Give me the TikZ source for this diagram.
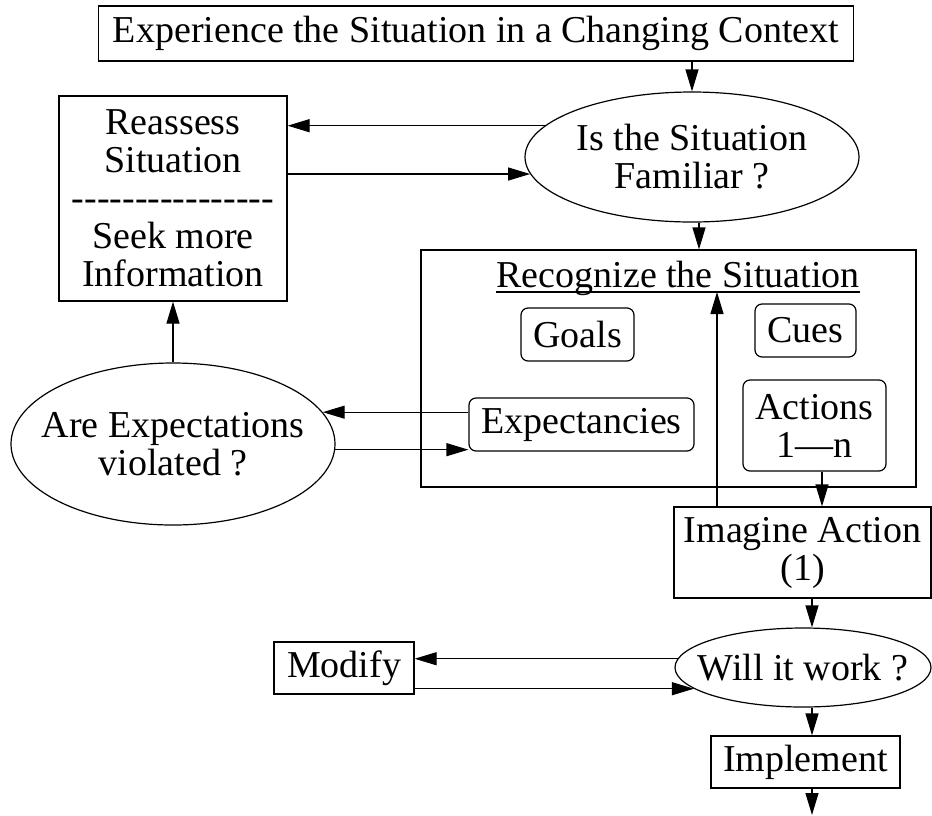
\documentclass[tikz,border=0pt]{standalone}
\usepackage{fontspec}
\setmainfont{Liberation Serif}[Ligatures=TeXOff]
\usetikzlibrary{shapes.geometric,arrows.meta,calc}
\begin{document}
\begin{tikzpicture}[x=1pt,y=-1pt,
  every node/.style={font=\fontsize{38}{38}\selectfont},
  line width=1.2pt,
  box/.style={draw, rectangle, inner sep=0pt, align=center},
  rbox/.style={box, rounded corners=7pt},
  oval/.style={draw, ellipse, inner sep=0pt},
  txt/.style={align=center, inner sep=0pt},
  arr/.style={-{Triangle[length=22pt,width=13pt]}}]
\useasboundingbox (0,0) rectangle (932,815);

% boxes and decisions
\node[box, minimum width=755pt, minimum height=55pt] (top) at (476,33.5)
  {Experience the Situation in a Changing Context};
\node[oval, minimum width=334pt, minimum height=130pt] (fam) at (692,157) {};
\node[txt] (famtxt) at (fam.center) {Is the Situation\\Familiar ?};
\node[box, minimum width=228pt, minimum height=205pt] (reas) at (173,198.5)
  {Reassess\\Situation\\----------------\\Seek more\\Information};

\node[box, minimum width=495pt, minimum height=237pt] (rec) at (668.5,368.5) {};
\node[inner sep=0pt, anchor=base] (title) at (678,287) {Recognize the Situation};
\coordinate (ul) at ([yshift=-5pt]title.base);
\draw ([yshift=-5pt]title.base west) -- ([yshift=-5pt]title.base east);
\node[rbox, minimum width=113pt, minimum height=53pt] (goals) at (577.5,334.5) {Goals};
\node[rbox, minimum width=101pt, minimum height=53pt] (cues) at (805.5,330.5) {Cues};
\node[rbox, minimum width=143pt, minimum height=91pt] (act) at (814.5,425.5) {Actions\\1—n};
\node[rbox, minimum width=225pt, minimum height=53pt] (exp) at (581.5,424.5) {Expectancies};

\node[oval, minimum width=324pt, minimum height=162pt] (viol) at (173,444) {};
\node[txt] (violtxt) at (viol.center) {Are Expectations\\violated ?};

\node[box, minimum width=257pt, minimum height=91pt] (imag) at (802.5,552.5) {Imagine Action\\(1)};
\node[oval, minimum width=256pt, minimum height=79pt] (work) at (803,667.5) {};
\node[txt] (worktxt) at (work.center) {Will it work ?};
\node[box, minimum width=140pt, minimum height=52pt] (mod) at (344,668) {Modify};
\node[box, minimum width=189pt, minimum height=52pt] (impl) at (805.5,762) {Implement};
\coordinate (exit) at (812,815);

% connectors
\draw[arr] (fam.north |- top.south) -- (fam.north);
\draw[arr] (fam.168) -- (fam.168 -| reas.east);
\draw[arr] (reas.east |- fam.186) -- (fam.186);
\draw[arr] ([xshift=7pt]fam.south) -- ([xshift=7pt]fam.south |- rec.north);
\draw[arr] (viol.north) -- (reas.south);
\draw[arr] (exp.west |- viol.12) -- (viol.12);
\draw[arr] (viol.-2) -- (viol.-2 -| exp.west);
\draw[arr] ([xshift=7.5pt]act.south) -- ([xshift=7.5pt]act.south |- imag.north);
\draw[arr] ([xshift=-85.5pt]imag.north) -- ([xshift=-85.5pt]imag.north |- ul);
\draw[arr] ([xshift=9.5pt]imag.south) -- ([xshift=9.5pt]imag.south |- work.north);
\draw[arr] (work.176) -- (work.176 -| mod.east);
\draw[arr] (mod.east |- work.191) -- (work.191);
\draw[arr] ([xshift=9pt]work.south) -- ([xshift=9pt]work.south |- impl.north);
\draw[arr] (impl.south -| exit) -- (exit);
\end{tikzpicture}
\end{document}
